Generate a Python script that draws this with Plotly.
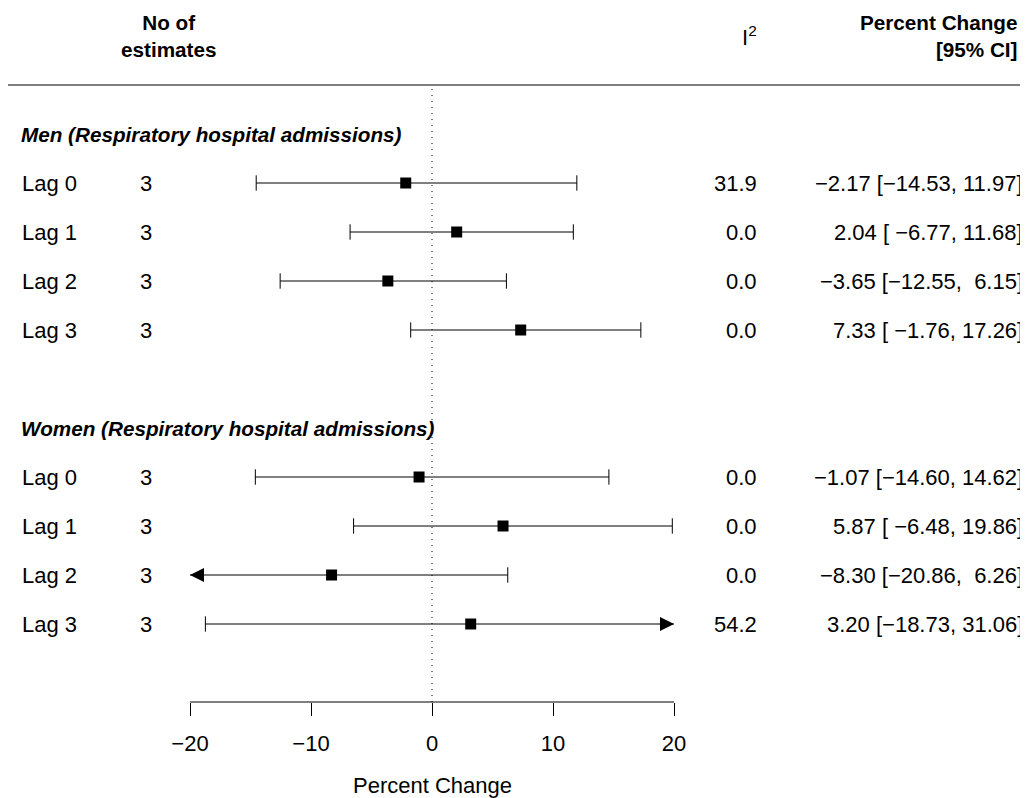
import plotly.graph_objects as go

# ---------------- data ----------------
men_labels = ["Lag 0", "Lag 1", "Lag 2", "Lag 3"]
men_n = [3, 3, 3, 3]
men_i2 = [31.9, 0.0, 0.0, 0.0]
men_est = [-2.17, 2.04, -3.65, 7.33]
men_lo = [-14.53, -6.77, -12.55, -1.76]
men_hi = [11.97, 11.68, 6.15, 17.26]

women_labels = ["Lag 0", "Lag 1", "Lag 2", "Lag 3"]
women_n = [3, 3, 3, 3]
women_i2 = [0.0, 0.0, 0.0, 54.2]
women_est = [-1.07, 5.87, -8.30, 3.20]
women_lo = [-14.60, -6.48, -20.86, -18.73]
women_hi = [14.62, 19.86, 6.26, 31.06]

group_titles = ["Men (Respiratory hospital admissions)", "Women (Respiratory hospital admissions)"]
x_ticks = [-20, -10, 0, 10, 20]
x_title = "Percent Change"

# ---------------- layout geometry ----------------
OX, OY = 8, 8                     # page body margin
W, H = 1028 - OX, 798 - OY        # figure size
FONT = "Arial, 'Liberation Sans', sans-serif"
FS = 22
FSB = 20.7
xlim = (-20, 20)
px_lo, px_hi = 190, 674           # target page pixels of axis limits
ppu = (px_hi - px_lo) / (xlim[1] - xlim[0])
x_range = [xlim[0] - (px_lo - OX) / ppu, xlim[1] + (1028 - px_hi) / ppu]

axis_px = 702
row_px = 49.0
row0_px = 673.0
y_range = [(row0_px - axis_px) / row_px, (row0_px - OY) / row_px]
plot_h = axis_px - OY

men_rows = [10, 9, 8, 7]
women_rows = [4, 3, 2, 1]
header_rows = [11, 5]
col_header_row = 13
rule_row = 12

labels = men_labels + women_labels
ns = men_n + women_n
i2 = men_i2 + women_i2
est = men_est + women_est
lo = men_lo + women_lo
hi = men_hi + women_hi
rows = men_rows + women_rows


def mfmt(v, w=0):
    s = f"{v:{w}.2f}" if w else f"{v:.2f}"
    return s.replace("-", "\u2212")


ci_text = [f"{mfmt(e)} [{mfmt(l, 6)}, {mfmt(h, 5)}]" for e, l, h in zip(est, lo, hi)]

fig = go.Figure()

# CI lines (clipped to axis limits)
lx, ly = [], []
for l, h, r in zip(lo, hi, rows):
    lx += [max(l, xlim[0]), min(h, xlim[1]), None]
    ly += [r, r, None]
fig.add_trace(go.Scatter(x=lx, y=ly, mode="lines", line=dict(color="black", width=1),
                         hoverinfo="skip", showlegend=False))

# end caps for unclipped ends
cx, cy = [], []
for l, h, r in zip(lo, hi, rows):
    if l >= xlim[0]:
        cx.append(l); cy.append(r)
    if h <= xlim[1]:
        cx.append(h); cy.append(r)
fig.add_trace(go.Scatter(x=cx, y=cy, mode="markers",
                         marker=dict(symbol="line-ns", size=11, line=dict(color="black", width=1)),
                         hoverinfo="skip", showlegend=False))

# arrows for clipped ends
ax_l = [(xlim[0], r) for l, r in zip(lo, rows) if l < xlim[0]]
ax_r = [(xlim[1], r) for h, r in zip(hi, rows) if h > xlim[1]]
if ax_l:
    fig.add_trace(go.Scatter(x=[a[0] for a in ax_l], y=[a[1] for a in ax_l], mode="markers",
                             marker=dict(symbol="arrow-left", size=14, color="black",
                                         line=dict(width=0)),
                             hoverinfo="skip", showlegend=False))
if ax_r:
    fig.add_trace(go.Scatter(x=[a[0] for a in ax_r], y=[a[1] for a in ax_r], mode="markers",
                             marker=dict(symbol="arrow-right", size=14, color="black",
                                         line=dict(width=0)),
                             hoverinfo="skip", showlegend=False))

# point estimates
fig.add_trace(go.Scatter(x=est, y=rows, mode="markers",
                         marker=dict(symbol="square", size=11, color="black", line=dict(width=0)),
                         hoverinfo="skip", showlegend=False))

ann = []
PAD = 2  # annotation box padding


def add_text(text, xpx, row, anchor, size=FS):
    shift = {"left": -PAD, "right": PAD, "center": 0}[anchor]
    ann.append(dict(text=text, x=(xpx + shift - OX) / W, xref="paper", y=row, yref="y",
                    xanchor=anchor, yanchor="middle", align=anchor, showarrow=False,
                    font=dict(family=FONT, size=size, color="black")))


for lab, n, v, t, r in zip(labels, ns, i2, ci_text, rows):
    add_text(lab, 22, r, "left")
    add_text(str(n), 146, r, "center")
    add_text(f"{v:.1f}", 757, r, "right")
    add_text(t, 1023, r, "right")

for g, r in zip(group_titles, header_rows):
    add_text(f"<b><i>{g}</i></b>", 21, r, "left", FSB)

add_text("<b>No of<br>estimates</b>", 168, col_header_row, "center", FSB)
add_text("I<sup>2</sup>", 757, col_header_row, "right")
add_text("<b>Percent Change<br>[95% CI]</b>", 1018, col_header_row, "right", FSB)

# axis title
ann.append(dict(text=x_title, x=0, xref="x", y=(axis_px - 785) / plot_h,
                yref="paper", xanchor="center", yanchor="middle", showarrow=False,
                font=dict(family=FONT, size=FS, color="black")))

shapes = [
    # header rule
    dict(type="line", xref="paper", x0=0, x1=1, yref="y", y0=rule_row, y1=rule_row,
         line=dict(color="#555555", width=1.5)),
    # reference line at 0
    dict(type="line", xref="x", x0=0, x1=0, yref="y", y0=y_range[0], y1=rule_row,
         line=dict(color="black", width=1, dash="1px,5px")),
    # axis line
    dict(type="line", xref="x", x0=xlim[0], x1=xlim[1], yref="paper", y0=0, y1=0,
         line=dict(color="black", width=1)),
]

fig.update_layout(
    width=W, height=H,
    margin=dict(l=0, r=0, t=0, b=H - plot_h),
    paper_bgcolor="white", plot_bgcolor="white",
    showlegend=False,
    annotations=ann, shapes=shapes,
    font=dict(family=FONT, size=FS, color="black"),
    xaxis=dict(range=x_range, showgrid=False, zeroline=False, showline=False,
               tickmode="array", tickvals=x_ticks, ticks="outside", ticklen=13,
               tickwidth=1, tickcolor="black", ticklabelstandoff=9,
               tickfont=dict(family=FONT, size=FS, color="black"), fixedrange=True),
    yaxis=dict(range=y_range, visible=False, fixedrange=True),
)

fig.write_html("out.html")
